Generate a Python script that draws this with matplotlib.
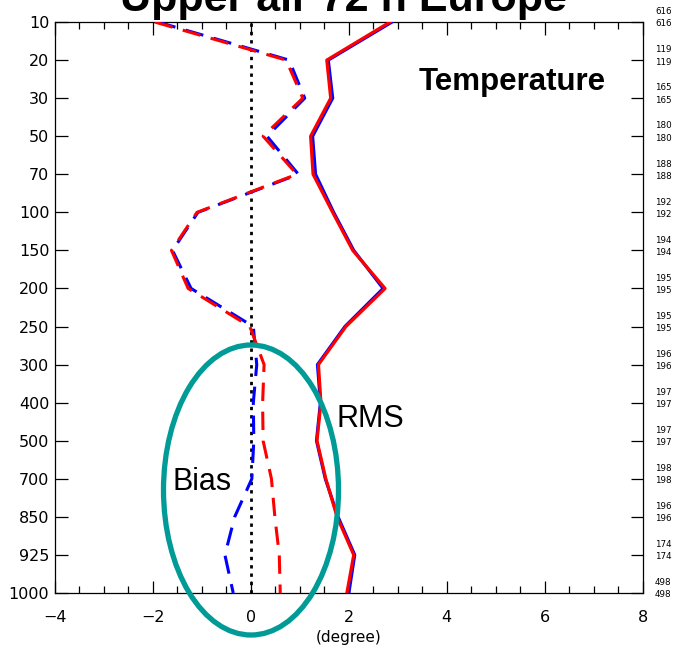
import matplotlib
matplotlib.use('Agg')
import matplotlib.pyplot as plt
from matplotlib.patches import Ellipse

# pressure levels (hPa), plotted on an evenly spaced axis
levels = [10, 20, 30, 50, 70, 100, 150, 200, 250, 300, 400, 500, 700, 850, 925, 1000]

# RMS (solid) and bias (dashed) for the two runs
rms_blue = [2.88, 1.58, 1.67, 1.26, 1.32, 1.69, 2.10, 2.70, 1.92, 1.36, 1.42, 1.34, 1.52, 1.78, 2.12, 2.00]
rms_red = [2.84, 1.55, 1.63, 1.22, 1.27, 1.67, 2.08, 2.74, 1.94, 1.38, 1.43, 1.35, 1.53, 1.76, 2.10, 1.96]
bias_blue = [-1.90, 0.78, 1.10, 0.33, 0.97, -1.08, -1.60, -1.22, 0.05, 0.12, 0.05, 0.06, 0.02, -0.33, -0.53, -0.36]
bias_red = [-1.96, 0.72, 1.06, 0.25, 0.94, -1.10, -1.62, -1.28, -0.02, 0.27, 0.24, 0.25, 0.42, 0.49, 0.58, 0.60]

# sample counts shown on the right-hand side (two rows per level)
counts_top = [616, 119, 165, 180, 188, 192, 194, 195, 195, 196, 197, 197, 198, 196, 174, 498]
counts_bot = [616, 119, 165, 180, 188, 192, 194, 195, 195, 196, 197, 197, 198, 196, 174, 498]

ypos = list(range(len(levels)))

fig = plt.figure(figsize=(6.78, 6.54), dpi=100)
ax = fig.add_axes([0.081, 0.0933, 0.867, 0.873])

ax.plot(rms_blue, ypos, color='blue', lw=2.3, zorder=3)
ax.plot(rms_red, ypos, color='red', lw=2.3, zorder=4)
ax.plot(bias_blue, ypos, color='blue', lw=2.2, dashes=(6, 3.5), zorder=3)
ax.plot(bias_red, ypos, color='red', lw=2.2, dashes=(6, 3.5), zorder=4)
ax.axvline(0, color='black', lw=2.0, ls=(0, (1.2, 1.8)), zorder=2)

ax.set_xlim(-4, 8)
ax.set_ylim(len(levels) - 1, 0)
ax.set_xticks(range(-4, 9, 2))
ax.set_xticklabels(['\u22124', '\u22122', '0', '2', '4', '6', '8'])
ax.set_xticks([x * 0.5 for x in range(-8, 17)], minor=True)
ax.set_yticks(ypos)
ax.set_yticklabels([str(l) for l in levels])
ax.tick_params(axis='both', which='both', direction='in', top=True, right=True,
               labelsize=11.5, width=0.9)
ax.tick_params(axis='x', which='major', length=9, pad=12)
ax.tick_params(axis='x', which='minor', length=5)
ax.tick_params(axis='y', which='major', length=9, pad=4)
ax.set_xlabel('(degree)', fontsize=11, labelpad=4)
for s in ax.spines.values():
    s.set_linewidth(0.9)

# counts next to the right axis
for i in ypos:
    ax.text(1.021, i - 0.27, str(counts_top[i]), transform=ax.get_yaxis_transform(),
            fontsize=6.3, va='center', ha='left', clip_on=False)
    ax.text(1.021, i + 0.05, str(counts_bot[i]), transform=ax.get_yaxis_transform(),
            fontsize=6.3, va='center', ha='left', clip_on=False)

ax.text(5.33, 1.79, 'Temperature', fontsize=22.5, fontweight='bold',
        family='Liberation Sans', ha='center', va='baseline')
ax.text(2.45, 10.64, 'RMS', fontsize=22, family='Liberation Sans', ha='center', va='baseline')
ax.text(-0.99, 12.29, 'Bias', fontsize=22, family='Liberation Sans', ha='center', va='baseline')

ell = Ellipse((251, 654 - 490), 175, 290, transform=None, fill=False,
              edgecolor='#009b96', lw=3.8, clip_on=False, zorder=6)
fig.add_artist(ell)

fig.text(0.507, 1 - 11 / 654, 'Upper air 72 h Europe', fontsize=31, fontweight='bold',
         family='Liberation Sans', ha='center', va='baseline')

fig.savefig('out.png', dpi=100)
